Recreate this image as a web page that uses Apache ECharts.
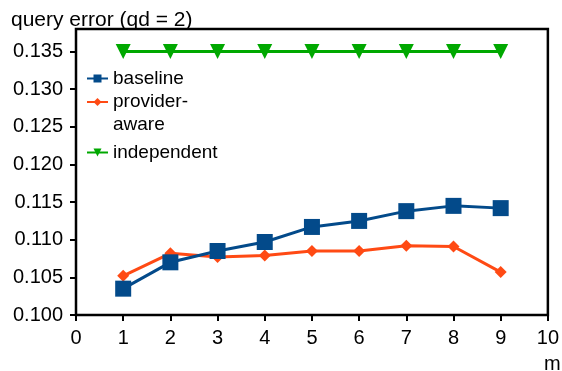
<!DOCTYPE html>
<html>
<head>
<meta charset="utf-8">
<script src="https://cdn.jsdelivr.net/npm/echarts@6/dist/echarts.min.js"></script>
<style>
html, body { margin: 0; padding: 0; background: #fff; }
#chart { width: 562px; height: 371px; }
</style>
</head>
<body>
<div id="chart"></div>
<script>
// number of providers m on the x axis
const mValues = [1, 2, 3, 4, 5, 6, 7, 8, 9];

// query error per strategy
const baseline      = [0.1035, 0.1070, 0.1085, 0.1097, 0.1117, 0.1125, 0.1138, 0.1145, 0.1142];
const providerAware = [0.1052, 0.1082, 0.1077, 0.1079, 0.1085, 0.1085, 0.1092, 0.1091, 0.1057];
const independent   = [0.135, 0.135, 0.135, 0.135, 0.135, 0.135, 0.135, 0.135, 0.135];

// axis ticks
const yTicks = [0.100, 0.105, 0.110, 0.115, 0.120, 0.125, 0.130, 0.135];
const xTicks = [0, 1, 2, 3, 4, 5, 6, 7, 8, 9, 10];

const FONT = 'Liberation Sans, Arial, sans-serif';
const BLUE = '#034a8a';
const ORANGE = '#ff4a14';
const GREEN = '#00a800';

const pairs = (vals) => mValues.map((m, i) => [m, vals[i]]);

const legendBase = {
  orient: 'vertical',
  left: 86,
  padding: 0,
  itemWidth: 21,
  itemHeight: 10,
  itemGap: 0,
  selectedMode: false,
  textStyle: { fontFamily: FONT, fontSize: 19, color: '#000', lineHeight: 23 }
};

const chart = echarts.init(document.getElementById('chart'), null, { renderer: 'canvas' });

chart.setOption({
  animation: false,
  title: {
    text: 'query error (qd = 2)',
    left: 11,
    top: 9,
    padding: 0,
    textStyle: { fontFamily: FONT, fontSize: 21, fontWeight: 'normal', color: '#000', lineHeight: 23 }
  },
  legend: [
    Object.assign({}, legendBase, { top: 67, data: ['baseline'] }),
    // leading blank line keeps the icon level with the first line of the wrapped name
    Object.assign({}, legendBase, {
      top: 67.5,
      data: ['provider-aware'],
      formatter: () => '\nprovider-\naware'
    }),
    Object.assign({}, legendBase, { top: 141, data: ['independent'] })
  ],
  grid: {
    left: 76,
    right: 9,
    top: 29,
    bottom: 56,
    show: true,
    borderColor: '#000',
    borderWidth: 2.5,
    backgroundColor: 'transparent'
  },
  xAxis: {
    type: 'value',
    min: 0,
    max: 10,
    interval: 1,
    axisLine: { show: true, lineStyle: { color: '#000', width: 2 } },
    axisTick: { show: true, length: 6, customValues: xTicks, lineStyle: { color: '#000', width: 2 } },
    axisLabel: { customValues: xTicks, margin: 13, fontFamily: FONT, fontSize: 20, color: '#000' },
    splitLine: { show: false }
  },
  yAxis: {
    type: 'value',
    min: 0.1,
    max: 0.138,
    axisLine: { show: true, lineStyle: { color: '#000', width: 2 } },
    axisTick: { show: true, length: 6, customValues: yTicks, lineStyle: { color: '#000', width: 2 } },
    axisLabel: {
      customValues: yTicks,
      margin: 13,
      fontFamily: FONT,
      fontSize: 20,
      color: '#000',
      formatter: (v) => v.toFixed(3)
    },
    splitLine: { show: false }
  },
  graphic: [{
    type: 'text',
    left: 544,
    top: 354,
    style: { text: 'm', font: '20px ' + FONT, fill: '#000' }
  }],
  series: [
    {
      name: 'baseline',
      type: 'line',
      data: pairs(baseline),
      z: 4,
      symbol: 'rect',
      symbolSize: 16,
      lineStyle: { color: BLUE, width: 3 },
      itemStyle: { color: BLUE }
    },
    {
      name: 'provider-aware',
      type: 'line',
      data: pairs(providerAware),
      z: 3,
      symbol: 'diamond',
      symbolSize: 12,
      lineStyle: { color: ORANGE, width: 3 },
      itemStyle: { color: ORANGE }
    },
    {
      name: 'independent',
      type: 'line',
      data: pairs(independent),
      z: 2,
      symbol: 'triangle',
      symbolRotate: 180,
      symbolSize: 15,
      lineStyle: { color: GREEN, width: 3 },
      itemStyle: { color: GREEN }
    }
  ]
});
</script>
</body>
</html>
